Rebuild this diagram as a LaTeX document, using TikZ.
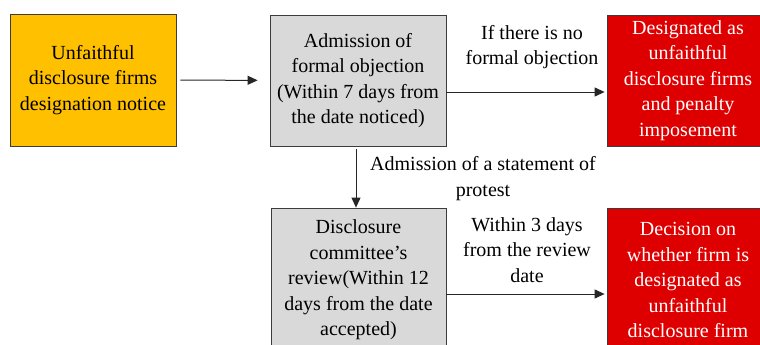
\documentclass[tikz,border=0pt]{standalone}
\usepackage{fontspec}
\setmainfont{Liberation Serif}
\usetikzlibrary{arrows.meta}
\definecolor{orng}{RGB}{255,192,0}
\definecolor{gry}{RGB}{217,217,217}
\definecolor{rd}{RGB}{222,0,0}
\definecolor{edgec}{RGB}{60,60,60}
\begin{document}
\begin{tikzpicture}[x=1pt,y=-1pt,
  txt/.style={font=\fontsize{20}{25.5}\selectfont, align=center, inner sep=0pt},
  box/.style={txt, draw=edgec, line width=0.8pt},
  arr/.style={-{Triangle[length=10pt,width=9pt]}, line width=1pt, draw=black!85}]
\useasboundingbox (0,0) rectangle (760,345);
\clip (0,0) rectangle (760,345);
\node[box, fill=orng, minimum width=166pt, minimum height=132pt] (notice) at (93,80)
  {Unfaithful\\disclosure firms\\designation notice};
\node[box, fill=gry, minimum width=176pt, minimum height=131pt] (objection) at (358,80.5)
  {Admission of\\formal objection\\(Within 7 days from\\the date noticed)};
\node[box, fill=rd, text=white, minimum width=162pt, minimum height=131pt] (penalty) at (688,80.5)
  {Designated as\\unfaithful\\disclosure firms\\and penalty\\imposement};
\node[box, fill=gry, minimum width=175pt, minimum height=144pt] (review) at (358.5,280)
  {Disclosure\\committee's\\review(Within 12\\days from the date\\accepted)};
\node[box, fill=rd, text=white, minimum width=162pt, minimum height=144pt] (decision) at (688,280)
  {Decision on\\whether firm is\\designated as\\unfaithful\\disclosure firm};
\draw[arr, shorten <=4pt, shorten >=12pt] (notice) -- (objection);
\draw[arr, shorten >=2pt] (objection.east |- 0,92) -- (penalty.west |- 0,92);
\draw[arr, shorten <=3pt] (objection.south -| 356,0) -- (review.north -| 356,0);
\draw[arr, shorten >=2pt] (review.east |- 0,294) -- (decision.west |- 0,294);
\node[txt] (lblno) at (532,47) {If there is no\\formal objection};
\node[txt] (lblprotest) at (483,178.5) {Admission of a statement of\\protest};
\node[txt] (lblthree) at (527,250) {Within 3 days\\from the review\\date};
\end{tikzpicture}
\end{document}
